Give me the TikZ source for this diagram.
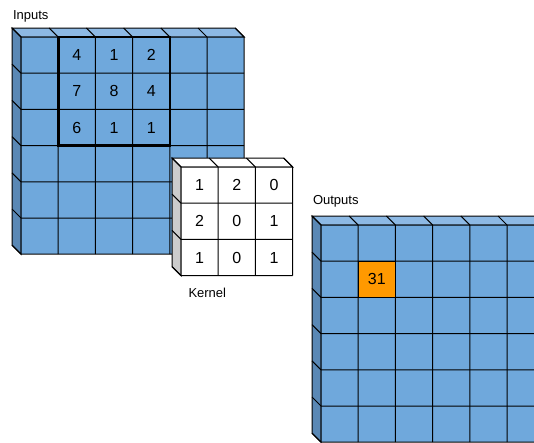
\documentclass[tikz,border=0pt]{standalone}
\usepackage{fontspec}
\setmainfont{Liberation Sans}
\usetikzlibrary{positioning}
\definecolor{cellblue}{HTML}{6FA8DC}
\definecolor{cubetop}{HTML}{8DB9E4}
\definecolor{cubeside}{HTML}{5A88B5}
\definecolor{kernelside}{HTML}{CCCCCC}
\definecolor{outhit}{HTML}{FF9900}

% cell size and depth of the slabs (in px)
\newcommand{\cw}{37.2}
\newcommand{\ch}{36.2}
\newcommand{\dep}{-9}

% #1,#2 front corner, #3 cols, #4 rows, #5 front, #6 top, #7 side
\newcommand{\slabgrid}[7]{%
  \begin{scope}[shift={(#1,#2)}]
    \filldraw[fill=#6] (0,0) -- (\dep,\dep) -- ({#3*\cw+\dep},\dep) -- ({#3*\cw},0) -- cycle;
    \filldraw[fill=#7] (0,0) -- (\dep,\dep) -- (\dep,{#4*\ch+\dep}) -- (0,{#4*\ch}) -- cycle;
    \fill[#5] (0,0) rectangle ({#3*\cw},{#4*\ch});
    \foreach \i in {0,...,#3}
      \draw (\i*\cw,0) -- ++(\dep,\dep) (\i*\cw,0) -- (\i*\cw,{#4*\ch});
    \foreach \j in {0,...,#4}
      \draw (0,\j*\ch) -- ++(\dep,\dep) (0,\j*\ch) -- ({#3*\cw},\j*\ch);
  \end{scope}}

\begin{document}
\begin{tikzpicture}[x=1pt, y=-1pt, line width=1pt,
  val/.style={font=\fontsize{16}{19}\selectfont},
  caption/.style={font=\fontsize{13}{16}\selectfont, anchor=base west, inner sep=0pt},
  window/.style={line width=2.6pt}
]
\clip (0,0) rectangle (534,442);

% Input slab
\slabgrid{21}{37}{6}{6}{cellblue}{cubetop}{cubeside}
\draw[window] (58.2,37) rectangle ++(111.6,108.6);

% Output slab
\slabgrid{321}{225}{6}{6}{cellblue}{cubetop}{cubeside}
\filldraw[fill=outhit] (358.2,261.2) rectangle ++(37.2,36.2);

% Kernel slab
\slabgrid{181}{167}{3}{3}{white}{white}{kernelside}

% Input patch values
\begin{scope}[shift={(21,37)}, x=37.2pt, y=-36.2pt]
  \node[val] (in11) at (1.5,0.5) {4};
  \node[val] (in12) at (2.5,0.5) {1};
  \node[val] (in13) at (3.5,0.5) {2};
  \node[val] (in21) at (1.5,1.5) {7};
  \node[val] (in22) at (2.5,1.5) {8};
  \node[val] (in23) at (3.5,1.5) {4};
  \node[val] (in31) at (1.5,2.5) {6};
  \node[val] (in32) at (2.5,2.5) {1};
  \node[val] (in33) at (3.5,2.5) {1};
\end{scope}

% Kernel values
\begin{scope}[shift={(181,167)}, x=37.2pt, y=-36.2pt]
  \node[val] (k11) at (0.5,0.5) {1};
  \node[val] (k12) at (1.5,0.5) {2};
  \node[val] (k13) at (2.5,0.5) {0};
  \node[val] (k21) at (0.5,1.5) {2};
  \node[val] (k22) at (1.5,1.5) {0};
  \node[val] (k23) at (2.5,1.5) {1};
  \node[val] (k31) at (0.5,2.5) {1};
  \node[val] (k32) at (1.5,2.5) {0};
  \node[val] (k33) at (2.5,2.5) {1};
\end{scope}

% Output value
\node[val] (out22) at (376.8,279.3) {31};

% Captions
\node[caption] (inlabel) at (12.5,19) {Inputs};
\node[caption] (klabel) at (188,297) {Kernel};
\node[caption] (outlabel) at (312.5,204) {Outputs};

\end{tikzpicture}
\end{document}
